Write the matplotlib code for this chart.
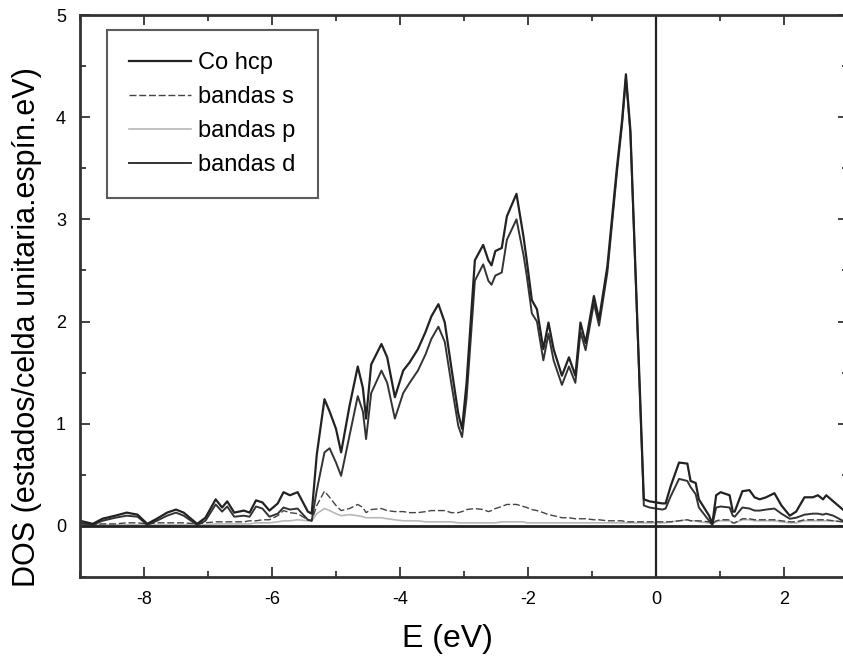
import matplotlib
matplotlib.use("Agg")
import matplotlib.pyplot as plt
from matplotlib.ticker import MultipleLocator

plt.rcParams['font.family'] = ['Liberation Sans', 'DejaVu Sans']
plt.rcParams['axes.unicode_minus'] = False

# energia (eV) relativa al nivel de Fermi
energia = [-9.0, -8.8, -8.65, -8.45, -8.27, -8.1, -7.95, -7.8, -7.64, -7.5,
           -7.38, -7.17, -7.04, -6.88, -6.78, -6.7, -6.59, -6.44, -6.35, -6.25,
           -6.15, -6.04, -5.91, -5.82, -5.72, -5.6, -5.44, -5.38, -5.3, -5.18,
           -5.1, -5.0, -4.92, -4.79, -4.66, -4.58, -4.53, -4.45, -4.29, -4.2,
           -4.08, -3.95, -3.85, -3.72, -3.6, -3.51, -3.4, -3.3, -3.2, -3.09,
           -3.03, -2.96, -2.83, -2.7, -2.62, -2.57, -2.51, -2.41, -2.33, -2.18,
           -2.07, -2.02, -1.94, -1.86, -1.76, -1.68, -1.6, -1.47, -1.36, -1.26,
           -1.18, -1.1, -0.97, -0.89, -0.76, -0.61, -0.53, -0.47, -0.4, -0.19,
           -0.1, 0.1, 0.15, 0.23, 0.36, 0.49, 0.54, 0.62, 0.67, 0.83,
           0.88, 0.94, 1.01, 1.15, 1.2, 1.23, 1.35, 1.46, 1.54, 1.62,
           1.72, 1.85, 1.96, 2.09, 2.19, 2.32, 2.45, 2.53, 2.61, 2.66,
           2.77, 2.92, 3.0]

dos_total = [0.05, 0.02, 0.07, 0.10, 0.13, 0.11, 0.02, 0.07, 0.13, 0.16,
             0.13, 0.02, 0.08, 0.26, 0.18, 0.24, 0.13, 0.15, 0.13, 0.25,
             0.23, 0.15, 0.22, 0.33, 0.30, 0.33, 0.14, 0.12, 0.70, 1.24,
             1.12, 0.95, 0.72, 1.17, 1.56, 1.35, 1.05, 1.58, 1.78, 1.65,
             1.26, 1.52, 1.60, 1.73, 1.90, 2.05, 2.17, 1.99, 1.56, 1.10,
             0.95, 1.40, 2.60, 2.75, 2.60, 2.55, 2.69, 2.72, 3.03, 3.25,
             2.83, 2.60, 2.21, 2.12, 1.73, 1.99, 1.73, 1.47, 1.65, 1.47,
             1.99, 1.79, 2.25, 2.02, 2.54, 3.51, 3.97, 4.42, 3.87, 0.26,
             0.24, 0.22, 0.22, 0.39, 0.62, 0.61, 0.44, 0.42, 0.26, 0.10,
             0.02, 0.30, 0.33, 0.30, 0.14, 0.14, 0.34, 0.35, 0.28, 0.26,
             0.28, 0.32, 0.20, 0.10, 0.14, 0.28, 0.28, 0.30, 0.26, 0.30,
             0.24, 0.16, 0.12]

dos_d = [0.03, 0.01, 0.05, 0.08, 0.10, 0.09, 0.01, 0.05, 0.10, 0.13,
         0.10, 0.01, 0.05, 0.21, 0.14, 0.19, 0.09, 0.10, 0.09, 0.19,
         0.17, 0.09, 0.12, 0.18, 0.16, 0.17, 0.06, 0.05, 0.35, 0.72,
         0.76, 0.62, 0.49, 0.88, 1.27, 1.12, 0.85, 1.30, 1.52, 1.40,
         1.05, 1.30, 1.40, 1.52, 1.68, 1.83, 1.95, 1.80, 1.40, 0.98,
         0.87, 1.25, 2.40, 2.56, 2.40, 2.36, 2.45, 2.48, 2.80, 3.00,
         2.65, 2.45, 2.08, 2.00, 1.62, 1.88, 1.62, 1.38, 1.56, 1.40,
         1.90, 1.72, 2.18, 1.96, 2.48, 3.46, 3.93, 4.38, 3.84, 0.20,
         0.18, 0.16, 0.17, 0.29, 0.46, 0.44, 0.38, 0.31, 0.18, 0.05,
         0.01, 0.18, 0.19, 0.18, 0.10, 0.09, 0.18, 0.17, 0.15, 0.15,
         0.16, 0.17, 0.12, 0.07, 0.08, 0.11, 0.12, 0.12, 0.11, 0.12,
         0.10, 0.05, 0.04]

dos_s = [0.02, 0.01, 0.02, 0.02, 0.03, 0.03, 0.02, 0.03, 0.03, 0.03,
         0.03, 0.02, 0.03, 0.04, 0.04, 0.04, 0.04, 0.04, 0.05, 0.05,
         0.06, 0.06, 0.10, 0.15, 0.13, 0.12, 0.06, 0.05, 0.20, 0.34,
         0.28, 0.20, 0.15, 0.17, 0.21, 0.18, 0.13, 0.16, 0.17, 0.15,
         0.14, 0.14, 0.13, 0.13, 0.14, 0.15, 0.15, 0.15, 0.13, 0.13,
         0.14, 0.16, 0.17, 0.16, 0.14, 0.15, 0.17, 0.19, 0.21, 0.21,
         0.19, 0.18, 0.16, 0.15, 0.13, 0.11, 0.10, 0.08, 0.08, 0.07,
         0.07, 0.07, 0.06, 0.06, 0.05, 0.05, 0.05, 0.04, 0.04, 0.04,
         0.04, 0.04, 0.04, 0.04, 0.05, 0.06, 0.05, 0.05, 0.05, 0.04,
         0.02, 0.05, 0.06, 0.06, 0.03, 0.03, 0.07, 0.07, 0.06, 0.06,
         0.06, 0.06, 0.05, 0.04, 0.04, 0.06, 0.06, 0.06, 0.06, 0.06,
         0.05, 0.04, 0.04]

dos_p = [0.01, 0.01, 0.01, 0.01, 0.01, 0.01, 0.01, 0.01, 0.01, 0.01,
         0.01, 0.01, 0.01, 0.02, 0.02, 0.02, 0.02, 0.02, 0.02, 0.03,
         0.03, 0.03, 0.04, 0.05, 0.05, 0.06, 0.05, 0.05, 0.12, 0.17,
         0.15, 0.12, 0.10, 0.11, 0.10, 0.09, 0.08, 0.08, 0.08, 0.07,
         0.06, 0.05, 0.05, 0.05, 0.04, 0.04, 0.04, 0.04, 0.04, 0.03,
         0.03, 0.03, 0.03, 0.03, 0.03, 0.03, 0.03, 0.04, 0.04, 0.04,
         0.04, 0.03, 0.03, 0.03, 0.03, 0.03, 0.03, 0.03, 0.03, 0.03,
         0.03, 0.03, 0.03, 0.03, 0.03, 0.03, 0.03, 0.03, 0.03, 0.03,
         0.03, 0.03, 0.03, 0.04, 0.05, 0.06, 0.05, 0.05, 0.04, 0.03,
         0.02, 0.04, 0.05, 0.05, 0.03, 0.03, 0.06, 0.06, 0.05, 0.05,
         0.05, 0.05, 0.04, 0.03, 0.03, 0.05, 0.05, 0.05, 0.05, 0.05,
         0.05, 0.04, 0.04]

fig = plt.figure(figsize=(8.43, 6.6), dpi=100)
ax = fig.add_axes([80 / 843, 1 - 577 / 660, 768 / 843, 562 / 660])

ax.plot(energia, dos_p, color='#b8b8b8', lw=1.2, label='bandas p')
ax.plot(energia, dos_s, color='#444444', lw=1.0, ls=(0, (5, 2)), label='bandas s')
ax.plot(energia, dos_d, color='#333333', lw=1.4, label='bandas d')
ax.plot(energia, dos_total, color='#222222', lw=1.6, label='Co hcp')

# nivel de Fermi y cero de DOS
ax.axvline(0, color='#222222', lw=1.6)
ax.axhline(0, color='#222222', lw=2.0)

ax.set_xlim(-9, 3)
ax.set_ylim(-0.5, 5)
ax.xaxis.set_major_locator(MultipleLocator(2))
ax.xaxis.set_minor_locator(MultipleLocator(1))
ax.yaxis.set_major_locator(MultipleLocator(1))
ax.yaxis.set_minor_locator(MultipleLocator(0.5))
ax.tick_params(which='both', direction='in', top=True, right=True,
               color='#333333', width=1.3)
ax.tick_params(which='major', length=7, labelsize=13, pad=10)
ax.tick_params(which='minor', length=4)
for s in ax.spines.values():
    s.set_linewidth(2)
    s.set_color('#333333')

ax.set_xlabel('E (eV)', fontsize=23)
ax.set_ylabel('DOS (estados/celda unitaria.espín.eV)', fontsize=22)
ax.xaxis.set_label_coords(0.478, -0.083)
ax.yaxis.set_label_coords(-0.05, 0.445)

h, l = ax.get_legend_handles_labels()
orden = ['Co hcp', 'bandas s', 'bandas p', 'bandas d']
hs = [h[l.index(n)] for n in orden]
leg = ax.legend(hs, orden, loc='upper left', bbox_to_anchor=(27 / 768, 1 - 15 / 562),
                borderaxespad=0, fontsize=17, frameon=True, fancybox=False,
                edgecolor='#333333', handlelength=2.6, handletextpad=0.3,
                labelspacing=0.5, borderpad=0.95)
leg.get_frame().set_linewidth(1.5)

fig.savefig('out.png', dpi=100)
